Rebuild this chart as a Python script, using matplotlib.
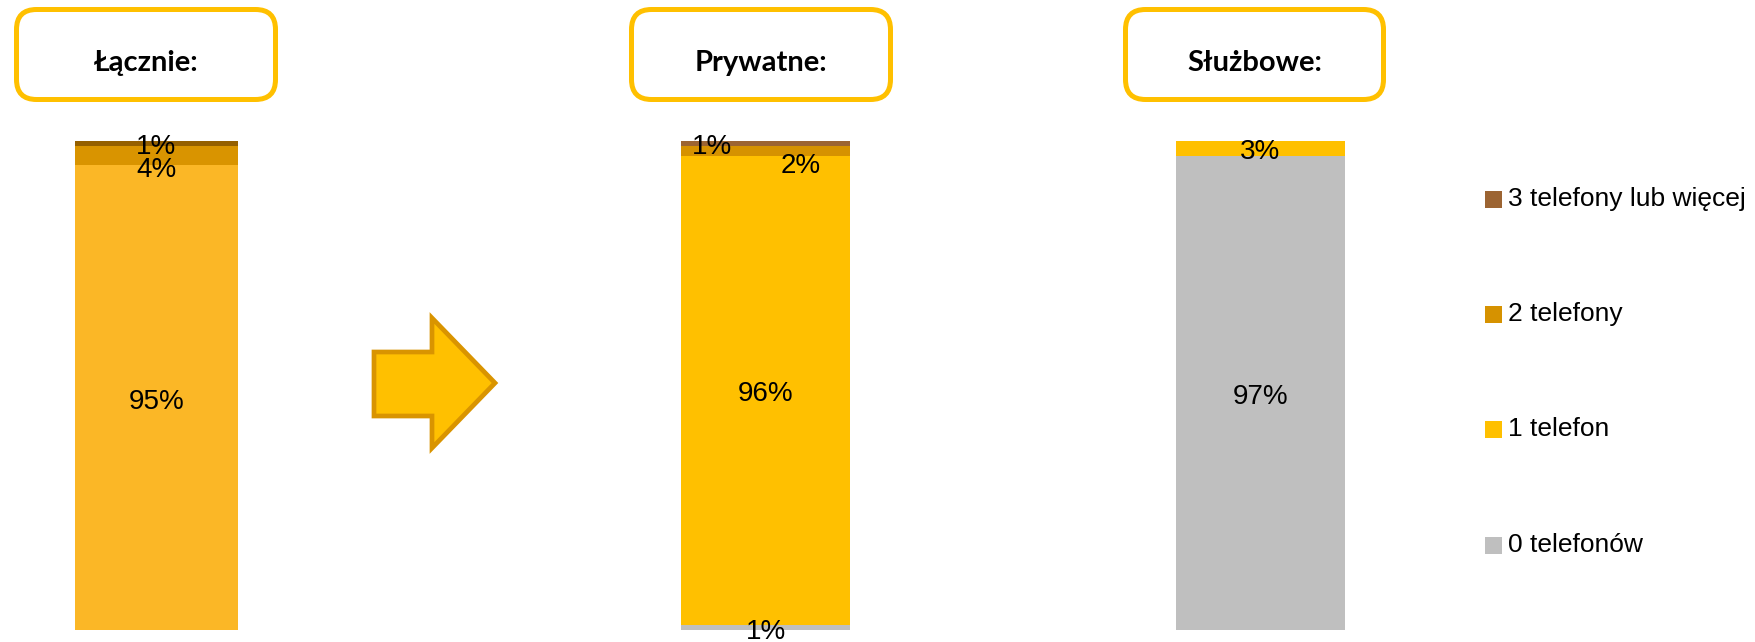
import matplotlib
matplotlib.use("Agg")
import matplotlib.pyplot as plt
from matplotlib.patches import FancyBboxPatch, Polygon, Rectangle

W, H = 1756, 642

# Data
categories = ["0 telefonów", "1 telefon", "2 telefony", "3 telefony lub więcej"]
panel_titles = ["Łącznie:", "Prywatne:", "Służbowe:"]
lacznie = [0, 95, 4, 1]
prywatne = [1, 96, 2, 1]
sluzbowe = [97, 3, 0, 0]

# Styling
colors_main = ["#BFBFBF", "#FFC000", "#D69200", "#9C6432"]
colors_total = ["#BFBFBF", "#FBB726", "#D99400", "#956000"]
box_color = "#FFC000"
label_font = ["Liberation Sans", "DejaVu Sans"]
title_font = ["Lato", "DejaVu Sans"]

fig = plt.figure(figsize=(W / 100, H / 100), dpi=100)
fig.patch.set_facecolor("white")


def fx(x):
    return x / W


def fy(y):
    return 1 - y / H


def stacked_bar(x0, x1, values, colors, label_offsets):
    ax = fig.add_axes([fx(x0), fy(630), (x1 - x0) / W, 489 / H])
    ax.set_xlim(-0.5, 0.5)
    ax.set_ylim(0, 100)
    ax.axis("off")
    bottom = 0
    for i, v in enumerate(values):
        if v <= 0:
            continue
        ax.bar(0, v, width=1.0, bottom=bottom, color=colors[i], linewidth=0)
        dx, dy = label_offsets.get(i, (0, 0))
        ax.annotate(f"{v}%", xy=(0, bottom + v / 2), xytext=(dx, dy - 4),
                    textcoords="offset pixels", ha="center", va="center",
                    fontsize=20, family=label_font, color="black",
                    annotation_clip=False)
        bottom += v
    return ax


stacked_bar(75, 238, lacznie, colors_total, {2: (0, -10)})
stacked_bar(681, 850, prywatne, colors_main, {0: (1, 0), 3: (-53, 0), 2: (35, -11)})
stacked_bar(1176, 1345, sluzbowe, colors_main, {})

# Title boxes
boxes = [(16.5, 275.5), (631.5, 890.5), (1125.5, 1383.5)]
for (bx0, bx1), title in zip(boxes, panel_titles):
    by0, by1 = 9.5, 99.5
    r = 20
    patch = FancyBboxPatch((fx(bx0 + r), fy(by1 - r)),
                           (bx1 - bx0 - 2 * r) / W, (by1 - by0 - 2 * r) / H,
                           boxstyle=f"round,pad={r / W},rounding_size={r / W}",
                           mutation_aspect=W / H,
                           transform=fig.transFigure, facecolor="white",
                           edgecolor=box_color, linewidth=3.6)
    fig.add_artist(patch)
    fig.text(fx((bx0 + bx1) / 2), fy(63), title, ha="center", va="center",
             fontsize=21, fontweight="bold", family=title_font, color="black")

# Arrow between the first two panels
arrow_px = [(374, 352), (432, 352), (432, 318), (495, 383),
            (432, 448), (432, 416), (374, 416)]
arrow = Polygon([(fx(x), fy(y)) for x, y in arrow_px], closed=True,
                transform=fig.transFigure, facecolor="#FFC000",
                edgecolor="#D99400", linewidth=3.4, joinstyle="miter")
fig.add_artist(arrow)

# Legend (top to bottom: most phones first)
legend_y = [199, 314, 429, 545]
for yc, idx in zip(legend_y, [3, 2, 1, 0]):
    sq = Rectangle((fx(1485), fy(yc + 8.5)), 17 / W, 17 / H,
                   transform=fig.transFigure, facecolor=colors_main[idx],
                   edgecolor="none")
    fig.add_artist(sq)
    fig.text(fx(1508), fy(yc), categories[idx], ha="left", va="center",
             fontsize=19, family=label_font, color="black")

fig.savefig("out.png", dpi=100, facecolor="white")
